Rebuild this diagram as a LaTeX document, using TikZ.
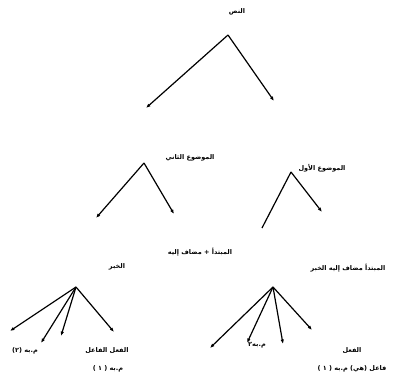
\documentclass[tikz,border=0pt]{standalone}
\usepackage{fontspec}
\usetikzlibrary{arrows.meta}
\TeXXeTstate=1
\newfontfamily\arabicfont[Script=Arabic]{DejaVu Sans}
\begin{document}
\begin{tikzpicture}[x=1pt,y=-1pt,
  lbl/.style={inner sep=0pt,font=\arabicfont\bfseries\fontsize{6.5}{7.5}\selectfont},
  arr/.style={line width=1.2pt,-{Latex[length=4.5pt,width=3.5pt]}},
  ln/.style={line width=1.2pt}]
\useasboundingbox (0,0) rectangle (397,380);
% tree 1
\coordinate (a0) at (228,35);
\coordinate (a0l) at (146,108);
\coordinate (a0r) at (274,101);
\node[lbl] (t0) at (237,12) {\beginR النص\endR};
\draw[arr] (a0) -- (a0l);
\draw[arr] (a0) -- (a0r);
% tree 2 (left)
\coordinate (a1) at (144,163);
\coordinate (a1l) at (96,218);
\coordinate (a1r) at (174,214);
\node[lbl] (t1) at (190,158) {\beginR الموضوع الثاني\endR};
\draw[arr] (a1) -- (a1l);
\draw[arr] (a1) -- (a1r);
% tree 3 (right)
\coordinate (a2) at (291,172);
\coordinate (a2l) at (262,228);
\coordinate (a2r) at (322,212);
\node[lbl] (t2) at (322,168) {\beginR الموضوع الأول\endR};
\draw[ln] (a2) -- (a2l);
\draw[arr] (a2) -- (a2r);
% middle label
\node[lbl] (t3) at (200,252) {\beginR المبتدأ + مضاف إليه\endR};
% fan left
\coordinate (f1) at (76,287);
\coordinate (f1a) at (10,331);
\coordinate (f1b) at (41,343);
\coordinate (f1c) at (61,336);
\coordinate (f1d) at (114,332);
\node[lbl] (t4) at (117,267) {\beginR الخبر\endR};
\draw[arr] (f1) -- (f1a);
\draw[arr] (f1) -- (f1b);
\draw[arr] (f1) -- (f1c);
\draw[arr] (f1) -- (f1d);
\node[lbl] (t5) at (25,351) {\beginR م.به (٢)\endR};
\node[lbl] (t6) at (107,351) {\beginR الفعل الفاعل\endR};
\node[lbl] (t7) at (108,369) {\beginR م.به ( ١ )\endR};
% fan right
\coordinate (f2) at (273,287);
\coordinate (f2a) at (210,348);
\coordinate (f2b) at (247,343);
\coordinate (f2c) at (283,344);
\coordinate (f2d) at (312,330);
\node[lbl] (t8) at (348,268) {\beginR المبتدأ مضاف إليه الخبر\endR};
\draw[arr] (f2) -- (f2a);
\draw[arr] (f2) -- (f2b);
\draw[arr] (f2) -- (f2c);
\draw[arr] (f2) -- (f2d);
\node[lbl] (t9) at (257,345) {\beginR م.به٢\endR};
\node[lbl] (t10) at (352,351) {\beginR الفعل\endR};
\node[lbl] (t11) at (352,369) {\beginR فاعل (هي) م.به ( ١ )\endR};
\end{tikzpicture}
\end{document}
